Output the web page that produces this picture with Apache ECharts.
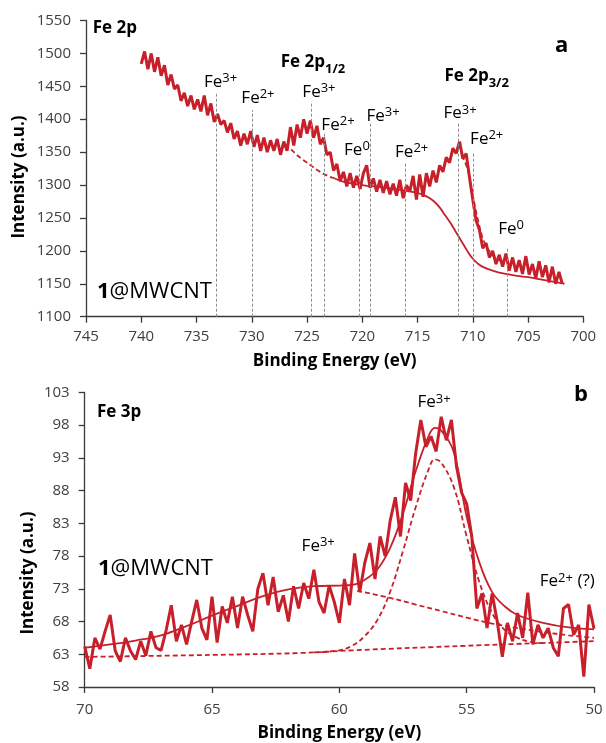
<!DOCTYPE html>
<html>
<head>
<meta charset="utf-8">
<script src="https://cdn.jsdelivr.net/npm/echarts@6/dist/echarts.min.js"></script>
<style>
  html, body { margin: 0; padding: 0; background: #fff; }
  #chart { width: 606px; height: 743px; }
</style>
</head>
<body>
<div id="chart"></div>
<script>
// ---- panel a : Fe 2p ----
var fe2pStart = 740.0, fe2pStep = 0.3;
var fe2pRaw = [
  1484, 1503, 1476, 1500, 1472, 1494, 1466, 1482, 1452, 1468,
  1446, 1452, 1428, 1440, 1420, 1436, 1415, 1430, 1412, 1436,
  1406, 1424, 1396, 1408, 1392, 1398, 1380, 1394, 1370, 1382,
  1360, 1378, 1362, 1382, 1358, 1376, 1352, 1372, 1350, 1368,
  1352, 1370, 1346, 1366, 1352, 1388, 1360, 1392, 1372, 1400,
  1378, 1398, 1372, 1390, 1362, 1372, 1346, 1350, 1322, 1332,
  1306, 1320, 1298, 1318, 1296, 1314, 1294, 1318, 1330, 1296,
  1310, 1290, 1308, 1288, 1306, 1286, 1302, 1284, 1308, 1280,
  1300, 1290, 1314, 1278, 1316, 1282, 1318, 1298, 1322, 1304,
  1330, 1320, 1342, 1334, 1356, 1348, 1366, 1340, 1348, 1312,
  1278, 1246, 1232, 1204, 1212, 1190, 1200, 1180, 1194, 1176,
  1196, 1170, 1190, 1168, 1186, 1165, 1192, 1164, 1180, 1158,
  1184, 1160, 1178, 1152, 1176, 1150, 1168, 1150
];
// background (solid) and 2p1/2 background (dashed)
var fe2pBgE = [722.5, 721.5, 720, 718, 716, 715, 714.5, 714, 713.5, 713, 712.5, 712, 711.5, 711, 710.5, 710, 709.5, 709, 708, 707, 706, 705, 704, 703, 702, 701.7];
var fe2pBgI = [1310, 1304, 1300, 1296, 1291, 1288, 1285, 1281, 1275, 1266, 1254, 1242, 1228, 1214, 1200, 1188, 1180, 1175, 1169, 1165, 1162, 1160, 1157, 1154, 1151, 1150];
var fe2pBg2E = [727, 726.5, 726, 725.5, 725, 724.5, 724, 723.5, 723, 722.5];
var fe2pBg2I = [1362, 1355, 1347, 1340, 1334, 1328, 1322, 1317, 1313, 1310];
var fe2pFitE = [711, 710.5, 710, 709.5, 709, 708.5, 708, 707.5];
var fe2pFitI = [1345, 1325, 1285, 1245, 1215, 1200, 1190, 1185];
// reference lines for oxidation states
var fe2pLineE = [733.2, 730.0, 724.6, 723.4, 720.3, 719.3, 716.1, 711.3, 710.0, 706.9];
var fe2pLineTop = [1440, 1414, 1427, 1381, 1337, 1396, 1335, 1396, 1351, 1205];
var fe2pIon = ['3+', '2+', '3+', '2+', '0', '3+', '2+', '3+', '2+', '0'];
var fe2pLabelE = [732.83, 729.44, 723.92, 722.2, 720.48, 718.12, 715.53, 711.16, 708.74, 706.54];
var fe2pLabelI = [1457, 1432, 1441, 1391, 1353, 1405, 1350, 1409, 1370, 1233];

// ---- panel b : Fe 3p ----
var fe3pStart = 70.0, fe3pStep = 0.2;
var fe3pRaw = [
  64.2, 60.8, 65.5, 63.8, 66.5, 69.0, 63.5, 61.9, 65.5, 63.5,
  62.2, 65.0, 62.8, 66.5, 64.0, 63.6, 66.7, 70.5, 65.0, 67.5,
  64.5, 68.0, 71.3, 67.0, 65.2, 71.8, 64.8, 70.3, 67.8, 71.8,
  67.0, 71.8, 69.0, 66.5, 73.0, 75.4, 70.5, 74.8, 69.5, 72.0,
  68.0, 73.4, 70.0, 73.9, 71.5, 75.9, 71.0, 69.3, 73.5, 71.0,
  67.8, 74.5, 70.5, 78.4, 72.5, 77.0, 80.0, 74.5, 81.0, 78.0,
  83.5, 87.0, 81.0, 89.2, 86.5, 93.8, 98.8, 94.7, 96.3, 94.0,
  99.3, 95.7, 98.8, 91.7, 87.7, 86.0, 81.0, 70.0, 72.3, 67.0,
  72.3, 68.0, 62.6, 67.8, 65.0, 69.3, 65.5, 72.4, 64.5, 67.5,
  65.5, 67.0, 64.0, 62.7, 70.0, 70.6, 66.0, 67.5, 59.6, 70.6,
  66.9
];
var fe3pEnvE = [70, 69, 68, 67, 66, 65, 64, 63, 62, 61, 60, 59.5, 59, 58.5, 58, 57.5, 57, 56.5, 56.25, 56, 55.5, 55, 54.5, 54, 53.5, 53, 52, 51, 50];
var fe3pEnvI = [64.0, 64.5, 65.1, 65.9, 67.3, 68.9, 70.4, 71.9, 72.9, 73.4, 73.5, 73.6, 74.4, 76.0, 79.3, 84.5, 91.0, 96.3, 97.6, 97.2, 93.8, 84.0, 77.0, 72.5, 70.3, 69.0, 67.8, 67.1, 66.8];
var fe3pMainE = [61, 60, 59.5, 59, 58.5, 58, 57.5, 57, 56.5, 56.25, 56, 55.5, 55, 54.5, 54, 53.5, 53, 52.5, 52];
var fe3pMainI = [63.3, 63.6, 64.3, 65.8, 68.3, 72.6, 78.8, 85.5, 91.2, 92.8, 92.3, 88.5, 81.0, 74.0, 69.3, 66.7, 65.5, 64.9, 64.7];
var fe3pBroadE = [59.3, 58, 57, 56, 55, 54, 53, 52, 51, 50];
var fe3pBroadI = [72.7, 71.6, 70.6, 69.6, 68.6, 67.7, 67.0, 66.4, 65.9, 65.5];
var fe3pBaseE = [70, 65, 61.5, 59.5, 55, 50];
var fe3pBaseI = [62.6, 62.9, 63.2, 63.6, 64.3, 65.0];
var fe3pLabelE = [56.28, 60.83, 51.05];
var fe3pLabelI = [101.5, 79.5, 74.1];
var fe3pLabelText = ['{b|Fe}{s|3+}', '{b|Fe}{s|3+}', '{b|Fe}{s|2+}{b| (?)}'];

var RED = '#C8202B';
var INK = '#000';
var FONT = '"Open Sans", "DejaVu Sans", sans-serif';

function pairs(xs, ys) { return xs.map(function (x, i) { return [x, ys[i]]; }); }
function grid(start, step, ys) {
  return ys.map(function (v, i) { return [+(start - i * step).toFixed(2), v]; });
}

var richLabel = {
  b: { fontSize: 17, fontFamily: FONT, color: INK, lineHeight: 20 },
  s: { fontSize: 13, fontFamily: FONT, color: INK, lineHeight: 12, verticalAlign: 'top' }
};

function lineSeries(xi, data, dashed, width) {
  return {
    type: 'line', xAxisIndex: xi, yAxisIndex: xi, data: data,
    showSymbol: false, smooth: dashed === 'raw' ? false : 0.4, silent: true,
    lineStyle: { color: RED, width: width, type: dashed === true ? [5, 3] : 'solid' },
    z: 3
  };
}

function axisX(gi, min, max, margin, gap) {
  return {
    type: 'value', gridIndex: gi, min: min, max: max, interval: 5, inverse: true,
    name: 'Binding Energy (eV)', nameLocation: 'middle', nameGap: gap,
    nameTextStyle: { fontFamily: FONT, fontWeight: 'bold', fontSize: 17, color: INK },
    axisLine: { lineStyle: { color: '#3a3a3a', width: 1.3 } },
    axisTick: { show: true, length: 6, lineStyle: { color: '#3a3a3a', width: 1.3 } },
    axisLabel: { fontFamily: FONT, fontSize: 15, color: '#404040', margin: margin },
    splitLine: { show: false }
  };
}
function axisY(gi, min, max, interval) {
  return {
    type: 'value', gridIndex: gi, min: min, max: max, interval: interval,
    axisLine: { show: true, lineStyle: { color: '#3a3a3a', width: 1.3 } },
    axisTick: { show: true, length: 6, lineStyle: { color: '#3a3a3a', width: 1.3 } },
    axisLabel: { fontFamily: FONT, fontSize: 15, color: '#404040', margin: 15,
      formatter: function (v) { return String(v); } },
    splitLine: { show: false }
  };
}

function labelSeries(xi, data) {
  return {
    type: 'scatter', xAxisIndex: xi, yAxisIndex: xi, symbolSize: 0, silent: true,
    data: data, z: 5,
    itemStyle: { color: RED, opacity: 1 },
    label: { show: true, position: 'inside', color: INK, opacity: 1, rich: richLabel }
  };
}

var subRich = {
  t: { fontSize: 17, fontWeight: 'bold', fontFamily: FONT, color: INK, lineHeight: 28 },
  u: { fontSize: 13, fontWeight: 'bold', fontFamily: FONT, color: INK, lineHeight: 12, verticalAlign: 'bottom' }
};
var topLabels = fe2pLabelE.map(function (e, i) {
  return { value: [e, fe2pLabelI[i]], label: { formatter: '{b|Fe}{s|' + fe2pIon[i] + '}' } };
});
topLabels.push({ value: [724.46, 1487], label: { formatter: '{t|Fe 2p}{u|1/2}', rich: subRich } });
topLabels.push({ value: [709.65, 1466], label: { formatter: '{t|Fe 2p}{u|3/2}', rich: subRich } });
var bottomLabels = fe3pLabelE.map(function (e, i) {
  return { value: [e, fe3pLabelI[i]], label: { formatter: fe3pLabelText[i] } };
});

var rawTop = lineSeries(0, grid(fe2pStart, fe2pStep, fe2pRaw), 'raw', 3);
rawTop.markLine = {
  silent: true, symbol: ['none', 'none'], animation: false,
  lineStyle: { color: '#8c8c8c', type: [3, 2], width: 1 },
  label: { show: false },
  data: fe2pLineE.map(function (e, i) { return [{ coord: [e, 1100] }, { coord: [e, fe2pLineTop[i]] }]; })
};

function text(x, y, str, size, bold, extra) {
  var t = {
    type: 'text', x: x, y: y, silent: true,
    style: {
      text: str, fill: INK, font: (bold ? 'bold ' : '') + size + 'px ' + FONT,
      textAlign: 'left', textVerticalAlign: 'middle', align: 'left', verticalAlign: 'middle'
    }
  };
  if (extra) { for (var k in extra) t.style[k] = extra[k]; }
  return t;
}
var mwcntRich = {
  k: { fontWeight: 'bold', fontSize: 22, fontFamily: FONT, fill: INK, color: INK },
  n: { fontSize: 22, fontFamily: FONT, fill: INK, color: INK }
};

var chart = echarts.init(document.getElementById('chart'), null, { renderer: 'canvas' });
chart.setOption({
  animation: false,
  backgroundColor: '#fff',
  grid: [
    { left: 86, right: 22.7, top: 20.5, height: 296.2 },
    { left: 84.7, right: 12, top: 392.5, height: 294.8 }
  ],
  xAxis: [axisX(0, 700, 745, 13, 36), axisX(1, 50, 70, 15, 38)],
  yAxis: [axisY(0, 1100, 1550, 50), axisY(1, 58, 103, 5)],
  series: [
    lineSeries(0, pairs(fe2pBgE, fe2pBgI), false, 1.8),
    lineSeries(0, pairs(fe2pBg2E, fe2pBg2I), true, 1.8),
    lineSeries(0, pairs(fe2pFitE, fe2pFitI), true, 1.6),
    rawTop,
    labelSeries(0, topLabels),
    lineSeries(1, grid(fe3pStart, fe3pStep, fe3pRaw), 'raw', 3),
    lineSeries(1, pairs(fe3pEnvE, fe3pEnvI), false, 1.8),
    lineSeries(1, pairs(fe3pMainE, fe3pMainI), true, 1.8),
    lineSeries(1, pairs(fe3pBroadE, fe3pBroadI), true, 1.8),
    lineSeries(1, pairs(fe3pBaseE, fe3pBaseI), true, 1.8),
    labelSeries(1, bottomLabels)
  ],
  graphic: [
    text(92.7, 28, 'Fe 2p', 17, true),
    text(555, 46, 'a', 22, true),
    text(97, 292, '{k|1}{n|@MWCNT}', 22, false, { rich: mwcntRich }),
    text(97, 412.5, 'Fe 3p', 17, true),
    text(574, 395, 'b', 22, true),
    text(98, 568.5, '{k|1}{n|@MWCNT}', 22, false, { rich: mwcntRich }),
    {
      type: 'text', x: 19.5, y: 177, rotation: Math.PI / 2, silent: true,
      style: { text: 'Intensity (a.u.)', fill: INK, font: 'bold 17px ' + FONT,
        textAlign: 'center', textVerticalAlign: 'middle', align: 'center', verticalAlign: 'middle' }
    },
    {
      type: 'text', x: 28, y: 573, rotation: Math.PI / 2, silent: true,
      style: { text: 'Intensity (a.u.)', fill: INK, font: 'bold 17px ' + FONT,
        textAlign: 'center', textVerticalAlign: 'middle', align: 'center', verticalAlign: 'middle' }
    }
  ]
});
</script>
</body>
</html>
